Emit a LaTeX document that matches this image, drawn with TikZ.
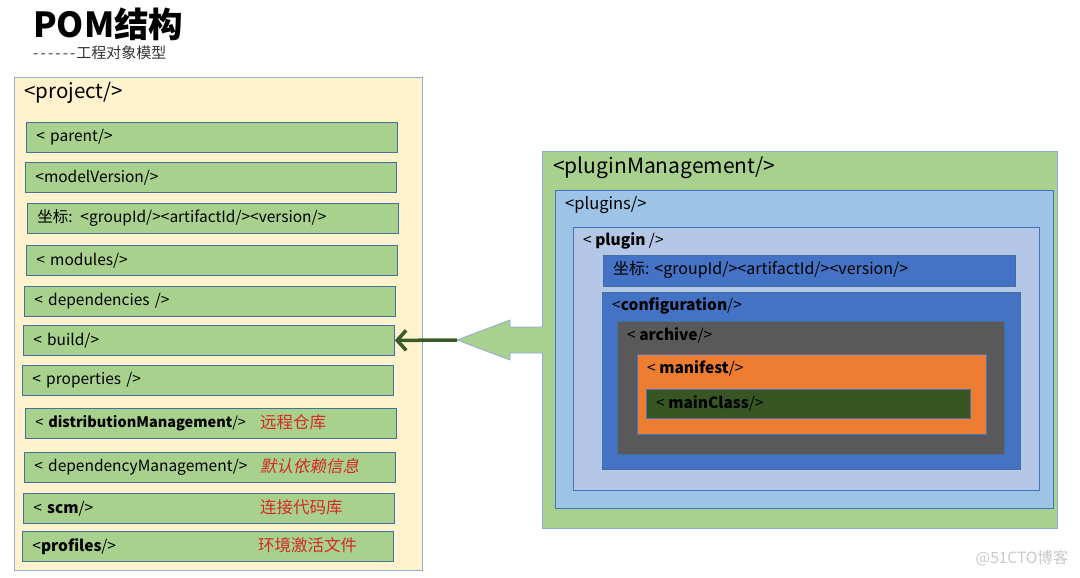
\documentclass[tikz,border=0pt]{standalone}
\usepackage{fontspec}
\setmainfont{Noto Sans CJK SC}
\newfontfamily\slantfont{Noto Sans CJK SC}[FakeSlant=0.2]
\usetikzlibrary{arrows.meta}

\definecolor{projyellow}{HTML}{FFF2CC}
\definecolor{projline}{HTML}{8FAADC}
\definecolor{itemgreen}{HTML}{A9D18E}
\definecolor{itemline}{HTML}{41719C}
\definecolor{notered}{HTML}{D42A2A}
\definecolor{pluginsblue}{HTML}{9DC3E6}
\definecolor{pluginblue}{HTML}{B4C7E7}
\definecolor{confblue}{HTML}{4472C4}
\definecolor{archivegray}{HTML}{595959}
\definecolor{manifestorange}{HTML}{ED7D31}
\definecolor{mainclassgreen}{HTML}{375623}
\definecolor{arrowgreen}{HTML}{3A5A27}
\definecolor{markgray}{HTML}{C8C8C8}

\begin{document}
\begin{tikzpicture}[x=1pt,y=-1pt,
	item/.style={draw=itemline,fill=itemgreen,line width=0.8pt,anchor=north west,
		minimum height=30pt,text width=351pt,inner xsep=10pt,inner ysep=0pt,
		align=left,font=\fontsize{15.5}{17}\selectfont},
	note/.style={text=notered,anchor=west,inner sep=0pt,font=\fontsize{16.5}{18}\selectfont},
	layer/.style 2 args={draw=#1,fill=#2,line width=0.8pt,anchor=north west,inner sep=0pt},
	tag/.style={anchor=west,inner sep=0pt,font=\fontsize{15.5}{17}\selectfont}]

	\useasboundingbox (0,0) rectangle (1080,578);

	% title
	\node[anchor=west,inner sep=0pt,font=\fontsize{34.5}{40}\selectfont\bfseries] (title) at (33,24) {POM结构};
	\node[anchor=west,inner sep=0pt,text=black!80,font=\fontsize{15}{17}\selectfont] (subtitle) at (33,53)
		{-\kern2.2pt-\kern2.2pt-\kern2.2pt-\kern2.2pt-\kern2.2pt-\kern1pt工程对象模型};

	% project
	\node[layer={projline}{projyellow},minimum width=408pt,minimum height=493pt] (project) at (14,77) {};
	\node[tag,font=\fontsize{20.5}{23}\selectfont] (projlabel) at (24,93) {<project/>};

	\node[item] (parent) at (26,122) {< parent/>};
	\node[item] (version) at (25,162) {<modelVersion/>};
	\node[item] (coord) at (27,203) {坐标: <groupId/><artifactId/><version/>};
	\node[item] (modules) at (26,245) {< modules/>};
	\node[item] (deps) at (24,286) {< dependencies />};
	\node[item] (build) at (23,325) {< build/>};
	\node[item] (props) at (22,365) {< properties />};
	\node[item,font=\fontsize{14.5}{17}\selectfont] (dist) at (25,408) {< \textbf{distributionManagement}/>};
	\node[item] (depmgmt) at (24,452) {< dependencyManagement/>};
	\node[item] (scm) at (23,493) {< \textbf{scm}/>};
	\node[item] (profiles) at (22,531) {<\textbf{profiles}/>};

	\node[note] (distnote) at (260,422) {远程仓库};
	\node[note,font=\fontsize{16.5}{18}\slantfont] (depnote) at (260,466) {默认依赖信息};
	\node[note] (scmnote) at (260,507) {连接代码库};
	\node[note] (profnote) at (258,545) {环境激活文件};

	% pluginManagement
	\node[layer={projline}{itemgreen},minimum width=515pt,minimum height=377pt] (pm) at (542,151) {};
	\node[layer={confblue}{pluginsblue},minimum width=498pt,minimum height=318pt] (plugins) at (555,190) {};
	\node[layer={confblue}{pluginblue},minimum width=466pt,minimum height=263pt] (plugin) at (573,227) {};
	\node[layer={itemline}{confblue},minimum width=412pt,minimum height=31pt] (pcoord) at (603,255) {};
	\node[layer={itemline}{confblue},minimum width=418pt,minimum height=177pt] (conf) at (602,292) {};
	\node[layer={itemline}{archivegray},minimum width=387pt,minimum height=133pt] (archive) at (617,321) {};
	\node[layer={confblue}{manifestorange},minimum width=349pt,minimum height=80pt] (manifest) at (637,354) {};
	\node[layer={confblue}{mainclassgreen},minimum width=324pt,minimum height=29pt] (mainclass) at (646,389) {};

	\node[tag,font=\fontsize{21}{23}\selectfont] (pmlabel) at (553,168) {<pluginManagement/>};
	\node[tag,font=\fontsize{16.5}{18}\selectfont] (pluginslabel) at (565,205) {<plugins/>};
	\node[tag] (pluginlabel) at (583,241) {< \textbf{plugin} />};
	\node[tag,font=\fontsize{16}{18}\selectfont] (pcoordlabel) at (613,270) {坐标: <groupId/><artifactId/><version/>};
	\node[tag] (conflabel) at (612,306) {<\textbf{configuration}/>};
	\node[tag] (archivelabel) at (627,335) {< \textbf{archive}/>};
	\node[tag] (manifestlabel) at (647,368) {< \textbf{manifest}/>};
	\node[tag] (mainclasslabel) at (656,403) {< \textbf{mainClass}/>};

	% arrow
	\coordinate (tip) at (457,340);
	\fill[itemgreen] (543,327) -- (510,327) -- (510,320) -- (tip) -- (510,360) -- (510,353) -- (543,353) -- cycle;
	\draw[projline,line width=0.8pt] (542,327) -- (510,327) -- (510,320) -- (tip) -- (510,360) -- (510,353) -- (542,353);
	\draw[arrowgreen,line width=3.5pt,-{Straight Barb[length=9pt,width=20pt]}] (tip) -- (build.east);

	\node[text=markgray,font=\fontsize{15.5}{17}\selectfont] (mark) at (1022,558) {@51CTO博客};

\end{tikzpicture}
\end{document}
